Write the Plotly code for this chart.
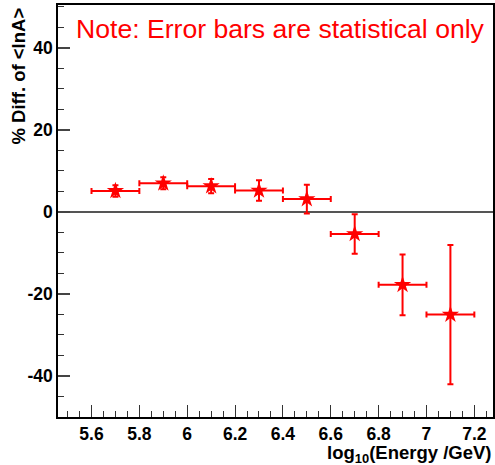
import plotly.graph_objects as go

energy = [5.7, 5.9, 6.1, 6.3, 6.5, 6.7, 6.9, 7.1]
energy_halfwidth = [0.1, 0.1, 0.1, 0.1, 0.1, 0.1, 0.1, 0.1]
diff_lnA = [5.1, 6.95, 6.25, 5.2, 3.1, -5.4, -17.8, -25.05]
diff_err = [1.4, 1.45, 1.75, 2.5, 3.5, 4.8, 7.4, 16.95]

x_ticks = [5.6, 5.8, 6.0, 6.2, 6.4, 6.6, 6.8, 7.0, 7.2]
x_ticklabels = ["5.6", "5.8", "6", "6.2", "6.4", "6.6", "6.8", "7", "7.2"]
y_ticks = [-40, -20, 0, 20, 40]
y_ticklabels = ["-40", "-20", "0", "20", "40"]

RED = "#ff0000"
L, R, T, B = 58, 2, 5, 48
W, H = 495, 465
plot_w = W - L - R
plot_h = H - T - B

fig = go.Figure()
fig.add_trace(go.Scatter(
    x=energy, y=diff_lnA, mode="markers",
    marker=dict(symbol="star", size=13, color=RED, line=dict(width=0)),
    error_x=dict(type="data", array=energy_halfwidth, color=RED, thickness=2, width=3),
    error_y=dict(type="data", array=diff_err, color=RED, thickness=2, width=3),
    showlegend=False, hoverinfo="skip",
))

tickfont = dict(family="Liberation Sans", size=17.5, color="black", weight="bold")
fig.update_layout(
    width=W, height=H,
    margin=dict(l=L, r=R, t=T, b=B),
    paper_bgcolor="white", plot_bgcolor="white",
    xaxis=dict(
        range=[5.46, 7.278], tickvals=x_ticks, ticktext=x_ticklabels,
        ticks="inside", ticklen=12, tickwidth=1, tickcolor="#333",
        minor=dict(dtick=0.05, tick0=5.6, ticks="inside", ticklen=6, tickcolor="#333", tickwidth=1),
        showline=True, linecolor="black", linewidth=1.5, mirror=True,
        showgrid=False, zeroline=False, tickfont=tickfont, automargin=False,
        ticklabelstandoff=0,
    ),
    yaxis=dict(
        range=[-50, 50.4], tickvals=y_ticks, ticktext=y_ticklabels,
        ticks="inside", ticklen=12, tickwidth=1.5, tickcolor="#444",
        minor=dict(dtick=5, tick0=0, ticks="inside", ticklen=6, tickcolor="#333", tickwidth=1),
        showline=True, linecolor="black", linewidth=1.5, mirror=True,
        showgrid=False, zeroline=True, zerolinecolor="#555", zerolinewidth=1.5,
        tickfont=tickfont, automargin=False,
    ),
    annotations=[
        dict(text="Note: Error bars are statistical only",
             x=(74 - L) / plot_w, y=1 - (29 - T) / plot_h, xref="paper", yref="paper",
             showarrow=False, font=dict(family="Liberation Sans", size=26.6, color=RED),
             xanchor="left", yanchor="middle"),
        dict(text="log<sub>10</sub>(Energy /GeV)", x=1.0, y=0, xref="paper", yref="paper",
             showarrow=False, font=dict(family="Liberation Sans", size=18.5, color="black", weight="bold"),
             xanchor="right", yanchor="top", yshift=-23),
        dict(text="% Diff. of <lnA>", x=0, y=1, xref="paper", yref="paper",
             showarrow=False, textangle=-90,
             font=dict(family="Liberation Sans", size=18.5, color="black", weight="bold"),
             xanchor="center", yanchor="top", xshift=-40, yshift=-1),
    ],
)
fig.write_html("out.html", config={"displayModeBar": False},
               post_script="document.body.style.margin='0';document.body.style.padding='0';")
